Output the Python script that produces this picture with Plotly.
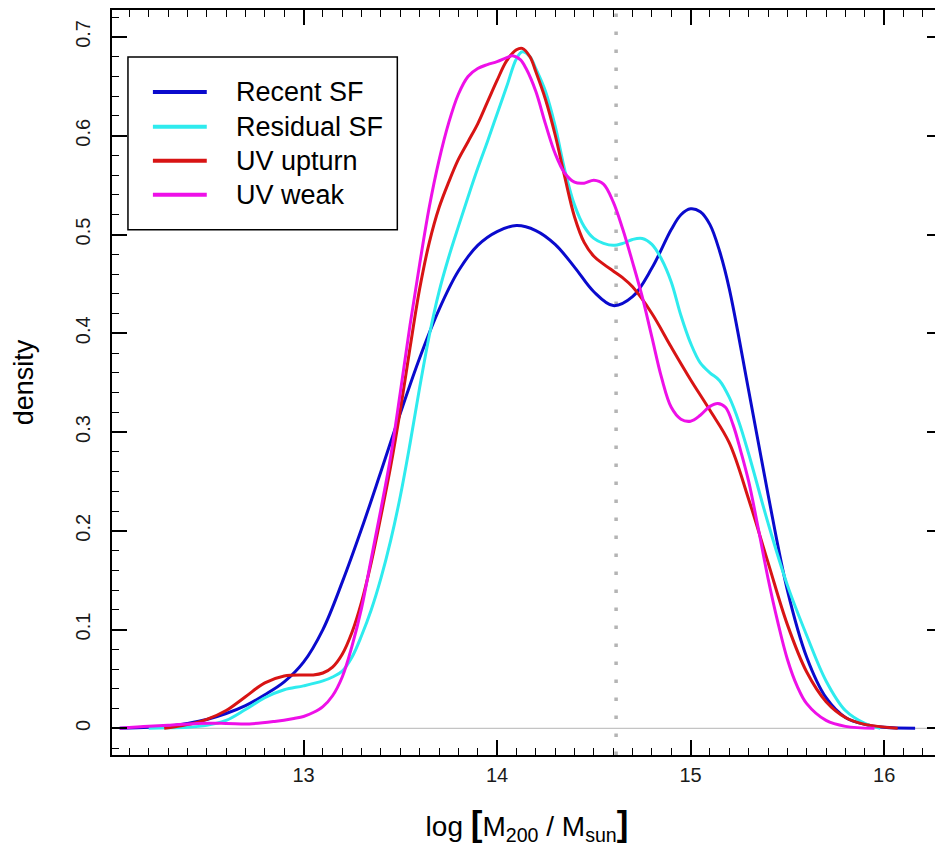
import plotly.graph_objects as go

# ---------------- data ----------------
recent_x = [12.05, 12.2, 12.3, 12.4, 12.5, 12.6, 12.7, 12.8, 12.9, 13.0, 13.1, 13.2, 13.3, 13.4,
            13.5, 13.6, 13.7, 13.8, 13.9, 14.0, 14.1, 14.2, 14.3, 14.4, 14.5, 14.6, 14.7, 14.8,
            14.9, 14.95, 15.0, 15.05, 15.1, 15.15, 15.2, 15.3, 15.4, 15.5, 15.6, 15.7, 15.8, 15.9,
            16.0, 16.16]
recent_y = [0.0, 0.001, 0.002, 0.005, 0.009, 0.015, 0.023, 0.034, 0.047, 0.067, 0.1, 0.148, 0.202, 0.26,
            0.319, 0.375, 0.424, 0.463, 0.489, 0.503, 0.509, 0.504, 0.49, 0.467, 0.442, 0.428, 0.437, 0.466,
            0.505, 0.52, 0.526, 0.523, 0.51, 0.483, 0.445, 0.342, 0.237, 0.14, 0.072, 0.031, 0.011, 0.004,
            0.001, 0.0]

residual_x = [12.2, 12.3, 12.4, 12.5, 12.6, 12.7, 12.8, 12.9, 13.0, 13.1, 13.15, 13.2, 13.25, 13.3,
              13.35, 13.4, 13.45, 13.5, 13.55, 13.6, 13.65, 13.7, 13.75, 13.8, 13.85, 13.9, 13.95,
              14.0, 14.05, 14.1, 14.13, 14.17, 14.2, 14.25, 14.3, 14.35, 14.4, 14.45, 14.5, 14.55,
              14.6, 14.65, 14.7, 14.75, 14.8, 14.85, 14.9, 14.95, 15.0, 15.05, 15.1, 15.15, 15.2,
              15.25, 15.3, 15.4, 15.5, 15.6, 15.7, 15.8, 15.9, 15.98]
residual_y = [0.0, 0.0005, 0.001, 0.003, 0.008, 0.019, 0.031, 0.039, 0.043, 0.048, 0.052, 0.058, 0.072, 0.094,
              0.12, 0.152, 0.19, 0.235, 0.288, 0.345, 0.398, 0.442, 0.477, 0.508, 0.538, 0.567, 0.594,
              0.622, 0.65, 0.678, 0.685, 0.68, 0.668, 0.645, 0.61, 0.565, 0.53, 0.508, 0.496, 0.491,
              0.489, 0.491, 0.495, 0.496, 0.49, 0.475, 0.452, 0.418, 0.39, 0.37, 0.36, 0.352, 0.335,
              0.31, 0.278, 0.208, 0.145, 0.094, 0.048, 0.018, 0.005, 0.0]

upturn_x = [12.28, 12.35, 12.43, 12.5, 12.6, 12.7, 12.8, 12.9, 13.0, 13.05, 13.1, 13.15, 13.2, 13.25,
            13.3, 13.35, 13.4, 13.45, 13.5, 13.55, 13.6, 13.65, 13.7, 13.75, 13.8, 13.85, 13.9, 13.95,
            14.0, 14.05, 14.1, 14.13, 14.17, 14.2, 14.25, 14.3, 14.35, 14.4, 14.45, 14.5, 14.55, 14.6,
            14.65, 14.7, 14.8, 14.9, 15.0, 15.1, 15.2, 15.3, 15.4, 15.5, 15.6, 15.7, 15.8, 15.9, 16.07]
upturn_y = [0.0, 0.002, 0.005, 0.009, 0.018, 0.032, 0.046, 0.053, 0.054, 0.054, 0.056, 0.062, 0.075, 0.097,
            0.128, 0.168, 0.215, 0.265, 0.322, 0.385, 0.445, 0.492, 0.527, 0.553, 0.576, 0.594, 0.612, 0.634,
            0.656, 0.676, 0.687, 0.6885, 0.68, 0.665, 0.637, 0.601, 0.558, 0.518, 0.492, 0.478, 0.47, 0.463,
            0.456, 0.447, 0.42, 0.386, 0.353, 0.322, 0.289, 0.232, 0.168, 0.105, 0.057, 0.027, 0.011, 0.004, 0.0]

weak_x = [12.05, 12.2, 12.3, 12.45, 12.6, 12.72, 12.85, 12.95, 13.0, 13.05, 13.1, 13.15, 13.2, 13.25,
          13.3, 13.35, 13.4, 13.45, 13.5, 13.55, 13.6, 13.65, 13.7, 13.75, 13.8, 13.85, 13.9, 13.95,
          14.0, 14.05, 14.08, 14.12, 14.15, 14.2, 14.25, 14.3, 14.35, 14.4, 14.45, 14.5, 14.55, 14.6,
          14.65, 14.7, 14.75, 14.8, 14.85, 14.9, 14.95, 15.0, 15.05, 15.1, 15.14, 15.18, 15.22, 15.26,
          15.3, 15.35, 15.4, 15.45, 15.5, 15.55, 15.6, 15.7, 15.8, 15.95]
weak_y = [0.0, 0.002, 0.003, 0.005, 0.005, 0.0045, 0.007, 0.010, 0.012, 0.016, 0.022, 0.033, 0.052, 0.083,
          0.122, 0.172, 0.222, 0.275, 0.34, 0.408, 0.47, 0.528, 0.575, 0.613, 0.642, 0.66, 0.668, 0.672,
          0.675, 0.679, 0.681, 0.677, 0.668, 0.645, 0.612, 0.582, 0.562, 0.553, 0.552, 0.555, 0.551, 0.533,
          0.505, 0.472, 0.437, 0.396, 0.355, 0.325, 0.313, 0.311, 0.317, 0.326, 0.329, 0.325, 0.307, 0.28,
          0.25, 0.202, 0.152, 0.108, 0.07, 0.043, 0.025, 0.008, 0.002, 0.0]

series_names = ["Recent SF", "Residual SF", "UV upturn", "UV weak"]
series_colors = ["#0A0ACD", "#2EEBEE", "#D81414", "#EE10E8"]
series_x = [recent_x, residual_x, upturn_x, weak_x]
series_y = [recent_y, residual_y, upturn_y, weak_y]

threshold_x = 14.615

x_ticks = [13, 14, 15, 16]
y_ticks = [0, 0.1, 0.2, 0.3, 0.4, 0.5, 0.6, 0.7]
y_tick_labels = ["0", "0.1", "0.2", "0.3", "0.4", "0.5", "0.6", "0.7"]

# ---------------- layout geometry (page body adds an 8px margin) ----------------
W, H = 936, 845
PL, PR, PT, PB = 104, 936, 1, 747   # plot area in figure pixels
FONT = "Liberation Sans, Arial, sans-serif"


def px_to_paper(px, py):
    return (px - PL) / (PR - PL), (PB - py) / (PB - PT)


fig = go.Figure()

for name, xs, ys, col in zip(series_names, series_x, series_y, series_colors):
    fig.add_trace(go.Scatter(x=xs, y=ys, mode="lines", name=name, showlegend=False,
                             line=dict(color=col, width=3, shape="spline", smoothing=1.0)))

shapes = [
    dict(type="line", xref="paper", yref="y", x0=0, x1=1, y0=0, y1=0,
         line=dict(color="#C4C4C4", width=1.2), layer="below"),
    dict(type="line", xref="x", yref="paper", x0=threshold_x, x1=threshold_x, y0=0, y1=1,
         line=dict(color="#B4B4B4", width=3.5, dash="3.5px,14.5px"), layer="below"),
]

# legend drawn as a box with sample lines and texts
bx0, by0 = px_to_paper(120, 221)
bx1, by1 = px_to_paper(390, 48)
shapes.append(dict(type="rect", xref="paper", yref="paper", x0=bx0, y0=by0, x1=bx1, y1=by1,
                   line=dict(color="black", width=1.5), fillcolor="white", layer="above"))
annotations = []
legend_rows = [83, 118, 152, 186]
for name, col, ry in zip(series_names, series_colors, legend_rows):
    lx0, ly = px_to_paper(145, ry)
    lx1, _ = px_to_paper(199, ry)
    shapes.append(dict(type="line", xref="paper", yref="paper", x0=lx0, x1=lx1, y0=ly, y1=ly,
                       line=dict(color=col, width=4), layer="above"))
    tx, _ = px_to_paper(226, ry)
    annotations.append(dict(xref="paper", yref="paper", x=tx, y=ly, text=name, showarrow=False,
                            xanchor="left", yanchor="middle",
                            font=dict(family=FONT, size=27, color="black")))

axis_common = dict(showline=True, linecolor="black", linewidth=1.5, mirror="ticks",
                   ticks="inside", ticklen=15, tickwidth=1.5, tickcolor="black",
                   showgrid=False, zeroline=False,
                   tickfont=dict(family=FONT, size=20, color="#1a1a1a"))

bracket_l = "<span style='font-size:35px'><b>[</b></span>"
bracket_r = "<span style='font-size:35px'><b>]</b></span>"
x_title = "log " + bracket_l + "M<sub>200</sub> / M<sub>sun</sub>" + bracket_r

fig.update_layout(
    width=W, height=H,
    margin=dict(l=PL, r=W - PR, t=PT, b=H - PB, pad=0),
    paper_bgcolor="white", plot_bgcolor="white",
    showlegend=False,
    xaxis=dict(**axis_common, range=[12.0103, 16.299], tickvals=x_ticks,
               minor=dict(ticks="inside", ticklen=7, tickwidth=1.2, tickcolor="black", dtick=0.1, tick0=12),
               ticklabelstandoff=1,
               title=dict(text=x_title, font=dict(family=FONT, size=28, color="black"), standoff=32)),
    yaxis=dict(**axis_common, range=[-0.027, 0.7273], tickvals=y_ticks, ticktext=y_tick_labels,
               tickangle=-90,
               minor=dict(ticks="inside", ticklen=7, tickwidth=1.2, tickcolor="black", dtick=0.02, tick0=0),
               ticklabelstandoff=12,
               title=dict(text="density", font=dict(family=FONT, size=27, color="black"), standoff=31)),
    shapes=shapes,
    annotations=annotations,
)

fig.write_html("out.html")
